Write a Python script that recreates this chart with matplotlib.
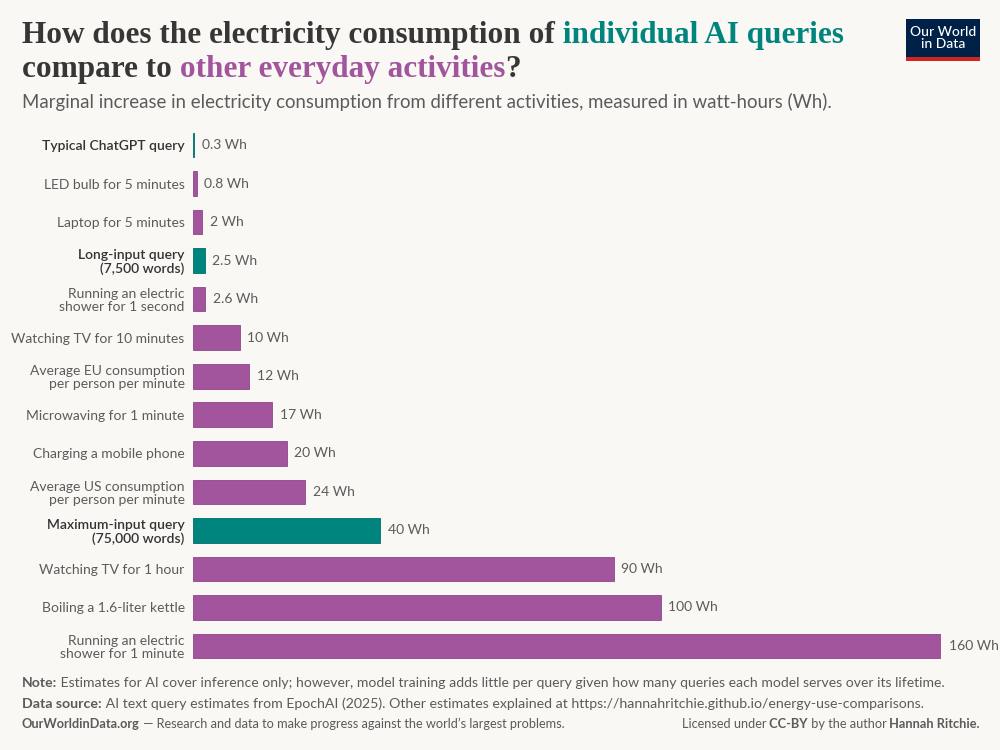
import matplotlib
matplotlib.use('Agg')
import matplotlib.pyplot as plt
from matplotlib.patches import Rectangle

plt.rcParams['font.family'] = ['Lato', 'DejaVu Sans']

# data, top to bottom
labels = ['Typical ChatGPT query', 'LED bulb for 5 minutes', 'Laptop for 5 minutes',
          'Long-input query\n(7,500 words)', 'Running an electric\nshower for 1 second',
          'Watching TV for 10 minutes', 'Average EU consumption\nper person per minute',
          'Microwaving for 1 minute', 'Charging a mobile phone',
          'Average US consumption\nper person per minute', 'Maximum-input query\n(75,000 words)',
          'Watching TV for 1 hour', 'Boiling a 1.6-liter kettle',
          'Running an electric\nshower for 1 minute']
values = [0.3, 0.8, 2, 2.5, 2.6, 10, 12, 17, 20, 24, 40, 90, 100, 160]
value_labels = ['0.3 Wh', '0.8 Wh', '2 Wh', '2.5 Wh', '2.6 Wh', '10 Wh', '12 Wh', '17 Wh',
                '20 Wh', '24 Wh', '40 Wh', '90 Wh', '100 Wh', '160 Wh']
is_ai = [True, False, False, True, False, False, False, False, False, False, True,
         False, False, False]

BG = '#f9f8f4'
TEAL = '#00847e'
PURPLE = '#a2559c'
DARK = '#363636'
GREY = '#5b5b5b'

W, H = 1000, 750
fig = plt.figure(figsize=(10, 7.5), dpi=100, facecolor=BG)

def fx(px):
    return px / W

def fy(py):
    return 1 - py / H

# main bars
ax = fig.add_axes([fx(193), fy(665.3), fx(941) - fx(193), (665.3 - 125.7) / H])
ax.set_facecolor(BG)
ypos = list(range(len(values)))
colors = [TEAL if a else PURPLE for a in is_ai]
edges = ['#006e69' if a else '#8e4688' for a in is_ai]
ax.barh(ypos, values, height=0.64, color=colors, edgecolor=edges, linewidth=0.6)
ax.set_xlim(0, 160)
ax.set_ylim(len(values) - 0.5, -0.5)
ax.set_yticks(ypos)
ax.set_yticklabels(labels, fontsize=10, linespacing=1.12)
for tl, a in zip(ax.get_yticklabels(), is_ai):
    if a:
        tl.set_fontweight(600)
        tl.set_color('#333333')
    else:
        tl.set_color(GREY)
ax.tick_params(axis='y', length=0, pad=6)
ax.set_xticks([])
for s in ax.spines.values():
    s.set_visible(False)
for y, v, t in zip(ypos, values, value_labels):
    ax.annotate(t, (v, y), xytext=(5.5, 0), textcoords='offset points',
                va='center', ha='left', fontsize=10, color=GREY)

# overlay axes for text
bg = fig.add_axes([0, 0, 1, 1], zorder=-1)
bg.axis('off')
bg.set_xlim(0, 1)
bg.set_ylim(0, 1)


def rich(x, y, parts, size, family=None, right=False):
    # parts: list of (text, color, weight); spaces go at the start of a part
    kw = dict(fontsize=size)
    if family:
        kw['family'] = family
    if not right:
        t = bg.text(x, y, parts[0][0], color=parts[0][1], fontweight=parts[0][2],
                    ha='left', va='baseline', **kw)
        for s, c, w in parts[1:]:
            t = bg.annotate(s, xy=(1, 0), xycoords=t, ha='left', va='bottom',
                            color=c, fontweight=w, **kw)
    else:
        t = bg.text(x, y, parts[-1][0], color=parts[-1][1], fontweight=parts[-1][2],
                    ha='right', va='baseline', **kw)
        for s, c, w in reversed(parts[:-1]):
            t = bg.annotate(s, xy=(0, 0), xycoords=t, ha='right', va='bottom',
                            color=c, fontweight=w, **kw)


title_font = ['Liberation Serif', 'DejaVu Serif']
rich(fx(22), fy(43), [('How does the electricity consumption of', DARK, 'bold'),
                      (' individual AI queries', TEAL, 'bold')], 22.5, title_font)
rich(fx(22), fy(77), [('compare to', DARK, 'bold'),
                      (' other everyday activities', PURPLE, 'bold'),
                      ('?', DARK, 'bold')], 22.5, title_font)
bg.text(fx(22), fy(108), 'Marginal increase in electricity consumption from different '
        'activities, measured in watt-hours (Wh).', fontsize=13.4, color=GREY,
        ha='left', va='baseline')

# footer
rich(fx(22), fy(687), [('Note:', GREY, 'bold'),
                       (' Estimates for AI cover inference only; however, model training '
                        'adds little per query given how many queries each model serves '
                        'over its lifetime.', GREY, 'normal')], 10.05)
rich(fx(22), fy(708), [('Data source:', GREY, 'bold'),
                       (' AI text query estimates from EpochAI (2025). Other estimates '
                        'explained at https://hannahritchie.github.io/energy-use-comparisons.',
                        GREY, 'normal')], 10.2)
rich(fx(22), fy(728), [('OurWorldinData.org', GREY, 'bold'),
                       (' \u2014 Research and data to make progress against the world\u2019s '
                        'largest problems.', GREY, 'normal')], 9.2)
rich(fx(980), fy(728), [('Licensed under', GREY, 'normal'), (' CC-BY', GREY, 'bold'),
                        (' by the author', GREY, 'normal'),
                        (' Hannah Ritchie.', GREY, 'bold')], 9.2, right=True)

# logo
bg.add_patch(Rectangle((fx(906), fy(61)), fx(74), 42 / H, facecolor='#002147',
                       edgecolor='none'))
bg.add_patch(Rectangle((fx(906), fy(61)), fx(74), 4 / H, facecolor='#ce261e',
                       edgecolor='none'))
bg.text(fx(943), fy(38), 'Our World\nin Data', color='white', fontsize=10,
        ha='center', va='center', linespacing=1.0, fontweight='medium')

fig.savefig('out.png', dpi=100, facecolor=BG)
